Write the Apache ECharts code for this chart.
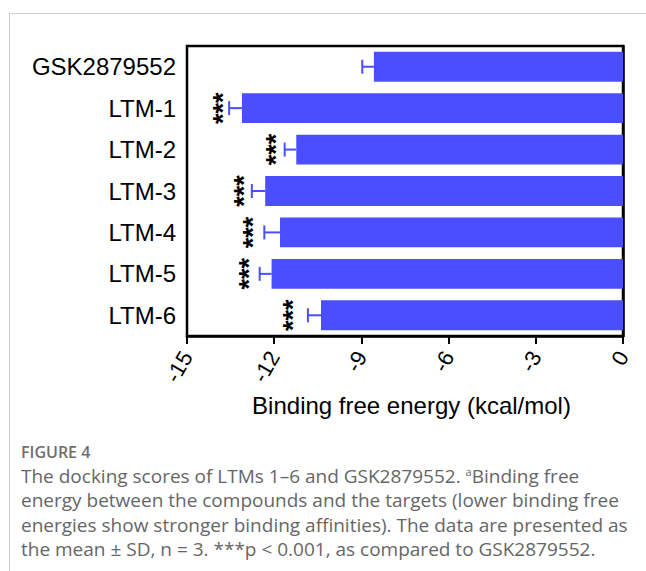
<!DOCTYPE html>
<html>
<head>
<meta charset="utf-8">
<script src="https://cdn.jsdelivr.net/npm/echarts@6/dist/echarts.min.js"></script>
<style>
html,body{margin:0;padding:0;background:#fff;}
#chart{width:646px;height:571px;}
</style>
</head>
<body>
<div id="chart"></div>
<script>
// ---- data ----
const categories = ['GSK2879552', 'LTM-1', 'LTM-2', 'LTM-3', 'LTM-4', 'LTM-5', 'LTM-6'];
const means = [-8.57, -13.11, -11.24, -12.31, -11.80, -12.09, -10.39];
const sds = [0.40, 0.44, 0.40, 0.46, 0.54, 0.41, 0.45];
// significance marker location (in kcal/mol units), null = no marker
const sigPos = [null, -13.9, -12.06, -13.17, -12.85, -13.0, -11.5];
const sigText = [null, '***', '***', '***', '***', '***', '***'];
const xTicks = { min: -15, max: 0, step: 3 };
const axisTitle = 'Binding free energy (kcal/mol)';
const figLabel = 'FIGURE 4';
const captionLines = [
  'The docking scores of LTMs 1\u20136 and GSK2879552. {sup|a}Binding free',
  'energy between the compounds and the targets (lower binding free',
  'energies show stronger binding affinities). The data are presented as',
  'the mean \u00B1 SD, n = 3. ***p < 0.001, as compared to GSK2879552.'
];

const BLUE = '#4a4eff';
const chart = echarts.init(document.getElementById('chart'), null, { renderer: 'svg' });

const errData = means.map((m, i) => [i, m, sds[i]]);
const sigData = sigPos.map((p, i) => [i, p, sigText[i]]).filter(d => d[1] !== null);

const graphics = [
  { type: 'line', shape: { x1: 9, y1: 13.5, x2: 646, y2: 13.5 }, style: { stroke: '#cfcfcf', lineWidth: 1 } },
  { type: 'line', shape: { x1: 9.5, y1: 13, x2: 9.5, y2: 571 }, style: { stroke: '#cfcfcf', lineWidth: 1 } },
  { type: 'text', left: 21, top: 444, style: { text: figLabel, font: '600 16px "Open Sans"', lineHeight: 16, fill: '#6e6e6e' } }
];
captionLines.forEach((t, k) => {
  graphics.push({
    type: 'text', left: 21, top: 466 + k * 24.4,
    style: {
      text: t, font: '19px "Open Sans"', lineHeight: 20, fill: '#666666',
      rich: { sup: { fontSize: 11, verticalAlign: 'top', fill: '#666666', fontFamily: 'Open Sans', padding: [0, 0, 7, 0] } }
    }
  });
});

chart.setOption({
  animation: false,
  backgroundColor: '#fff',
  textStyle: { fontFamily: 'Liberation Sans, Arial, sans-serif' },
  grid: {
    left: 187, top: 46, right: 23, bottom: 235,
    show: true, borderColor: '#000', borderWidth: 2.5, backgroundColor: 'transparent'
  },
  xAxis: {
    type: 'value', min: xTicks.min, max: xTicks.max, interval: xTicks.step,
    axisLine: { show: true, lineStyle: { color: '#000', width: 2.5 } },
    axisTick: { show: true, length: 8, lineStyle: { color: '#000', width: 2 } },
    splitLine: { show: false },
    axisLabel: { rotate: 60, fontSize: 22, color: '#000', margin: 17 },
    name: axisTitle, nameLocation: 'middle', nameGap: 51,
    nameTextStyle: { fontSize: 24, color: '#000', padding: [0, 0, 0, 13] }
  },
  yAxis: {
    type: 'category', data: categories, inverse: true,
    axisLine: { show: true, lineStyle: { color: '#000', width: 2.5 } },
    axisTick: { show: true, alignWithLabel: true, length: 8, lineStyle: { color: '#000', width: 2 } },
    axisLabel: { fontSize: 24, color: '#000', margin: 11 }
  },
  series: [
    {
      type: 'bar', data: means, barWidth: '72%',
      itemStyle: { color: BLUE }
    },
    {
      type: 'custom', data: errData, clip: false, z: 3,
      encode: { x: 1, y: 0 },
      renderItem: function (params, api) {
        const i = api.value(0), m = api.value(1), s = api.value(2);
        const p0 = api.coord([m, i]);
        const p1 = api.coord([m - s, i]);
        const h = 7;
        return {
          type: 'group', children: [
            { type: 'line', shape: { x1: p0[0], y1: p0[1], x2: p1[0], y2: p1[1] }, style: { stroke: BLUE, lineWidth: 2 } },
            { type: 'line', shape: { x1: p1[0], y1: p1[1] - h, x2: p1[0], y2: p1[1] + h }, style: { stroke: BLUE, lineWidth: 2 } }
          ]
        };
      }
    },
    {
      type: 'custom', data: sigData, clip: false, z: 4,
      encode: { x: 1, y: 0 },
      renderItem: function (params, api) {
        const i = api.value(0), p = api.value(1);
        const c = api.coord([p, i]);
        return {
          type: 'text', x: c[0] + 4, y: c[1], rotation: Math.PI / 2,
          style: { text: sigText[i], font: 'bold 27px "Liberation Sans"', fill: '#000', align: 'center', verticalAlign: 'middle' }
        };
      }
    }
  ],
  graphic: graphics
});
</script>
</body>
</html>
